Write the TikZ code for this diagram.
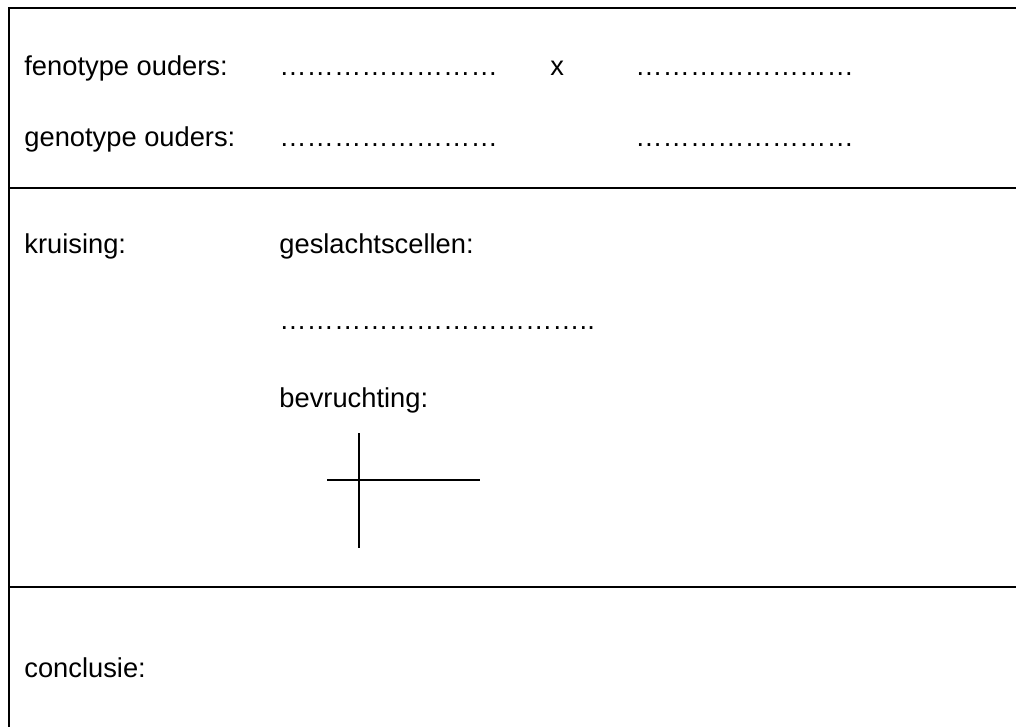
\documentclass[tikz,border=0pt]{standalone}
\usepackage{fontspec}
\setmainfont{Liberation Sans}
\usetikzlibrary{positioning}
\tikzset{
x=0.5pt, y=-0.5pt, % one unit is one pixel of the form
every node/.style={inner sep=0pt, anchor=base west, font=\fontsize{13.65}{16}\selectfont}, % sets the text of each field
frame/.style={line width=1pt}, % the lines of the form
cross/.style={line width=0.75pt}, % the cross for the fertilisation
}
\begin{document}
\begin{tikzpicture}
            \useasboundingbox (0,0) rectangle (1016,727);
            % the form
            \draw[frame] (9,727) -- (9,8) -- (1016,8);
            \draw[frame] (9,188) -- (1016,188);
            \draw[frame] (9,587) -- (1016,587);
            % parents
            \node (fen) at (24,76) {fenotype ouders:};
            \node (fendotsA) at (279,76) {……………………};
            \node (cross) at (550,76) {x};
            \node (fendotsB) at (635,76) {……………………};
            \node (gen) at (24,147) {genotype ouders:};
            \node (gendotsA) at (279,147) {……………………};
            \node (gendotsB) at (635,147) {……………………};
            % crossing
            \node (kruis) at (24,253) {kruising:};
            \node (gamete) at (279,253) {geslachtscellen:};
            \node (gamdots) at (279,329) {……………………………..};
            \node (bevr) at (279,407) {bevruchting:};
            \coordinate (top) at (359,433);
            \coordinate (bottom) at (359,548);
            \coordinate (left) at (327,480);
            \coordinate (right) at (480,480);
            \draw[cross] (top) -- (bottom) (left) -- (right);
            % conclusion
            \node (concl) at (24,677) {conclusie:};
            \end{tikzpicture}
\end{document}
